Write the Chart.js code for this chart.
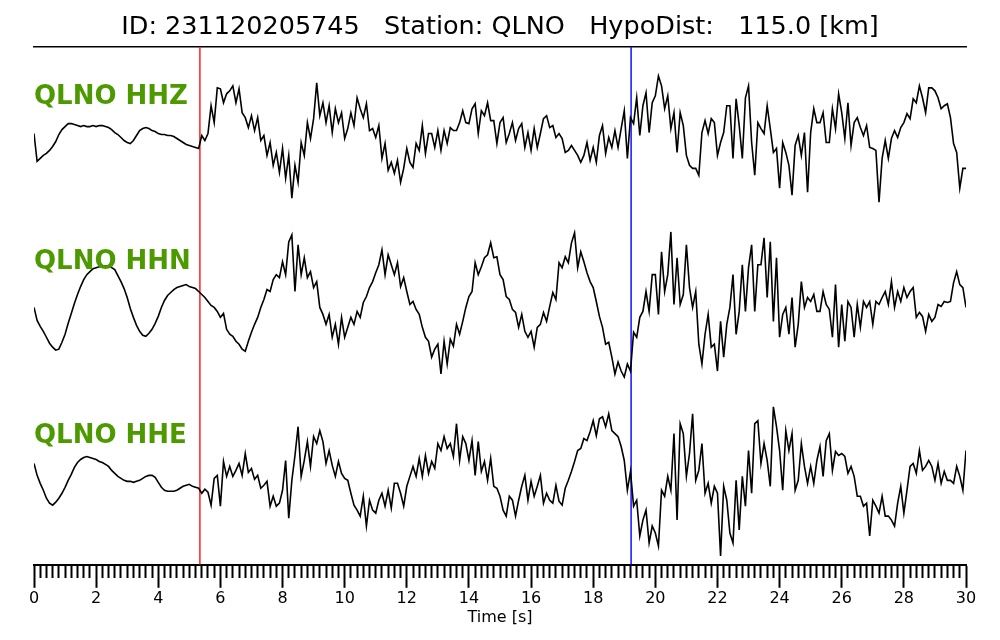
<!DOCTYPE html>
<html>
<head>
<meta charset="utf-8">
<script src="https://cdn.jsdelivr.net/npm/chart.js@4.4.1/dist/chart.umd.min.js"></script>
<style>
  html, body { margin: 0; padding: 0; background: #fff; }
</style>
</head>
<body>
<canvas id="seismo" width="1000" height="640"></canvas>
<script>
// Event / station info
const eventId = '231120205745';
const station = 'QLNO';
const hypoDist = '115.0';
const channels = ['HHZ', 'HHN', 'HHE'];

// Sampling of the traces (seconds)
const dt = 0.1;
const nSamples = 301;

// Phase picks (s): P in red, S in blue
const pPick = 5.34;
const sPick = 19.22;

// Trace amplitudes (normalized counts), one value every 0.1 s from 0 to 30 s
const hhz = [
  5, -23, -20, -17, -15, -12, -8, -3, 4, 9,
  12, 15, 15, 14, 13, 12, 13, 12, 12, 13,
  12, 13, 13, 12, 11, 9, 6, 4, 1, -2,
  -4, -5, -2, 3, 8, 10, 11, 10, 8, 7,
  5, 4, 4, 3, 3, 2, 0, -2, -4, -6,
  -7, -8, -9, -10, 3, -2, 5, 33, 16, 51,
  50, 36, 45, 48, 53, 36, 50, 26, 21, 11,
  23, 8, 21, -2, 3, -17, -4, -27, -14, -34,
  -10, -40, -17, -60, -27, -44, -4, -17, 16, 0,
  20, 56, 23, 36, 16, 33, 6, 30, 16, 26,
  0, 10, 26, 13, 41, 30, 21, 35, 8, 10,
  1, 13, -20, -5, -32, -24, -35, -22, -44, -30,
  -10, -24, -29, -5, -12, 13, -15, 5, 5, -9,
  8, -12, 8, -5, 11, 8, 8, 16, 28, 16,
  15, 30, 35, 5, 28, 23, 36, 18, 18, -5,
  16, 21, -4, 5, 16, -2, 10, 15, -9, 6,
  -12, 10, -9, 5, 20, 23, 11, 13, 1, 5,
  0, -14, -12, -7, -12, -17, -24, -17, -4, -22,
  -9, -24, 3, 13, -15, 1, -9, 8, -9, 10,
  28, -20, 21, 15, 41, 3, 33, 46, 6, 36,
  43, 63, 53, 30, 43, 10, 26, -14, 26, 13,
  -17, -27, -30, -30, -37, 6, 18, 5, 20, 16,
  -17, -4, 6, 33, 33, -20, 40, 13, -20, 41,
  53, -4, -37, 16, 10, 5, 33, 10, -14, -10,
  -50, -4, -14, -27, -57, -7, 3, -17, 6, -54,
  6, 30, 16, 16, 26, -4, -4, 30, 10, 45,
  26, 0, 36, -7, 16, 21, 11, 3, 13, -9,
  -10, -12, -64, -20, -2, -20, 0, 8, 1, 11,
  16, 25, 20, 40, 36, 53, 41, 26, 51, 51,
  48, 41, 30, 33, 35, 21, -5, -14, -50, -30,
  -30
];

const hhn = [
  -3, -16, -22, -27, -33, -39, -43, -46, -45, -38,
  -30, -19, -9, 1, 10, 18, 25, 30, 33, 36,
  37, 38, 38, 39, 39, 37, 35, 29, 23, 16,
  7, -4, -13, -21, -27, -31, -32, -29, -25, -19,
  -12, -3, 4, 9, 12, 15, 17, 18, 19, 20,
  18, 17, 16, 13, 10, 7, 3, -1, -3, -7,
  -13, -9, -25, -30, -32, -37, -40, -45, -47, -37,
  -28, -20, -13, -3, 5, 15, 13, 25, 30, 27,
  43, 30, 63, 70, 13, 60, 30, 47, 27, 33,
  17, 23, -3, -10, -20, -10, -33, -20, -40, -13,
  -33, -23, -13, -20, -7, -13, 2, 8, 17, 23,
  32, 40, 55, 30, 50, 40, 30, 42, 18, 27,
  13, 0, 3, -5, -10, -23, -33, -37, -53, -45,
  -40, -70, -37, -60, -35, -42, -20, -30, -17, -3,
  8, 13, 42, 30, 38, 47, 50, 62, 47, 48,
  30, 25, 8, 5, -5, -8, -23, -10, -27, -33,
  -27, -43, -23, -20, -8, -17, -2, 12, 5, 42,
  37, 48, 42, 62, 72, 37, 53, 43, 32, 23,
  17, 3, -12, -23, -40, -38, -53, -70, -58, -67,
  -73, -60, -67, -28, -33, -13, -7, 13, -7, 30,
  30, -10, 53, 13, 30, 73, 0, 47, 0, 10,
  60, 17, -3, 13, -40, -60, -30, -10, -43, -40,
  -67, -17, -53, -20, -3, 30, -30, -7, 40, -7,
  37, 60, -7, 40, 40, 67, 7, 63, -17, 47,
  -33, -10, -3, -30, 7, -43, -20, 23, -3, 7,
  3, 10, -7, -7, 13, 0, -5, -33, 20, -43,
  0, -37, 3, -3, -33, 0, -23, 3, -3, 3,
  -20, 3, 0, 7, 13, 0, 23, -3, 13, 3,
  17, 7, 13, 17, -13, -8, -12, -27, -10, -17,
  -13, 0, -2, 3, 2, 3, 22, 33, 20, 17,
  -3
];

const hhe = [
  15, 3, -5, -12, -20, -25, -27, -24, -20, -15,
  -9, -2, 4, 11, 16, 19, 21, 22, 21, 20,
  19, 17, 16, 14, 12, 8, 5, 2, 0, -2,
  -3, -3, -4, -3, -2, 0, 2, 3, 3, 1,
  -4, -9, -12, -13, -13, -13, -12, -10, -8, -7,
  -6, -8, -9, -10, -15, -11, -14, -27, 0, 3,
  -28, 17, 2, 12, 2, 8, 15, 3, 25, 6,
  10, -1, 3, -10, -7, -3, -28, -18, -28, -25,
  -12, 18, -40, -2, 23, 52, 2, 18, 37, 12,
  42, 35, 48, 37, 15, 28, 13, 2, 17, 5,
  0, -2, -15, -27, -32, -38, -18, -48, -22, -32,
  -35, -22, -15, -28, -12, -30, -5, -5, -15, -28,
  -8, 2, 12, 2, 20, 2, 23, 5, 17, 10,
  35, 28, 42, 30, 35, 22, 55, 18, 42, 35,
  18, 38, 3, 37, 7, 17, -2, 20, -8, -10,
  -18, -32, -38, -18, -22, -38, -22, -8, 3, -22,
  -3, -18, -8, 3, -25, -15, -22, -25, -7, -23,
  -27, -10, -2, 7, 17, 28, 30, 40, 38, 47,
  58, 43, 60, 62, 52, 65, 48, 45, 42, 32,
  18, -12, 7, -28, -22, -58, -42, -32, -65, -48,
  -55, -68, -12, -18, 2, -12, 45, -42, 55, 45,
  2, 25, 65, -2, 8, 35, -15, -5, -25, -8,
  -15, -78, -8, -22, -55, -65, -2, -52, 2, -28,
  28, -15, 55, 58, 15, 35, 18, -8, 72, 52,
  28, -12, 48, 28, 45, -12, -2, 35, 12, -5,
  12, -5, 18, 32, 2, 38, 45, 8, 27, 23,
  25, 22, 5, 12, 2, -18, -18, -28, -25, -58,
  -22, -28, -35, -18, -38, -38, -42, -48, -25, -8,
  -35, -12, 12, 15, 5, 28, 8, 12, 18, 12,
  -2, 15, -5, 7, -2, -2, -5, 12, 2, -12,
  28
];

// Vertical offsets used to stack the three traces
const traceOffsets = [429, 262, 87];
const yMax = 521;
const labelLift = 42;

const FONT = 'DejaVu Sans';

const times = Array.from({ length: nSamples }, (_, i) => Math.round(i * dt * 10) / 10);

function toPoints(values, offset) {
    return values.map((v, i) => ({ x: times[i], y: v + offset }));
}

function isMajor(v) {
    return Math.abs(v / 2 - Math.round(v / 2)) < 1e-6;
}

const traces = [hhz, hhn, hhe];

const datasets = traces.map((values, i) => ({
    label: station + ' ' + channels[i],
    data: toPoints(values, traceOffsets[i]),
    borderColor: '#000',
    borderWidth: 1.6,
    pointRadius: 0,
    tension: 0
}));

datasets.push({
    label: 'P',
    data: [{ x: pPick, y: 0 }, { x: pPick, y: yMax }],
    borderColor: '#ff2020',
    borderWidth: 1.5,
    pointRadius: 0
});
datasets.push({
    label: 'S',
    data: [{ x: sPick, y: 0 }, { x: sPick, y: yMax }],
    borderColor: '#1010ff',
    borderWidth: 1.5,
    pointRadius: 0
});

// Green channel names written above each trace
const channelLabels = {
    id: 'channelLabels',
    afterDatasetsDraw(chart) {
        const ctx = chart.ctx;
        const xs = chart.scales.x;
        const ys = chart.scales.y;
        ctx.save();
        ctx.font = 'bold 26px "' + FONT + '"';
        ctx.fillStyle = '#4d9a00';
        ctx.textAlign = 'left';
        ctx.textBaseline = 'middle';
        channels.forEach((ch, i) => {
            ctx.fillText(station + ' ' + ch, xs.getPixelForValue(0), ys.getPixelForValue(traceOffsets[i] + labelLift));
        });
        ctx.restore();
    }
};

new Chart(document.getElementById('seismo'), {
    type: 'line',
    data: { datasets: datasets },
    options: {
        responsive: false,
        animation: false,
        layout: { padding: { left: 34, right: 34, top: 0, bottom: 0 } },
        plugins: {
            legend: { display: false },
            tooltip: { enabled: false },
            title: {
                display: true,
                text: 'ID: ' + eventId + '   Station: ' + station + '   HypoDist:   ' + hypoDist + ' [km]',
                color: '#000',
                font: { family: FONT, size: 25.5, weight: 'normal' },
                padding: { top: 12, bottom: 4.5 }
            }
        },
        scales: {
            x: {
                type: 'linear',
                position: 'bottom',
                min: 0,
                max: 30,
                ticks: {
                    stepSize: 0.2,
                    autoSkip: false,
                    maxRotation: 0,
                    minRotation: 0,
                    padding: 3,
                    color: '#000',
                    font: { family: FONT, size: 16, lineHeight: 1 },
                    callback: v => isMajor(v) ? String(Math.round(v)) : ''
                },
                grid: {
                    drawOnChartArea: false,
                    drawTicks: true,
                    tickLength: 23,
                    tickWidth: 2,
                    tickColor: '#000',
                    tickBorderDash: ctx => isMajor(ctx.tick.value) ? [] : [12, 40]
                },
                border: { display: true, color: '#000', width: 2 },
                title: {
                    display: true,
                    text: 'Time [s]',
                    color: '#000',
                    font: { family: FONT, size: 16 },
                    padding: { top: -2, bottom: 13 }
                }
            },
            xTop: {
                type: 'linear',
                position: 'top',
                min: 0,
                max: 30,
                ticks: { display: false },
                grid: { display: false, drawTicks: false },
                border: { display: true, color: '#000', width: 1.5 }
            },
            y: {
                display: false,
                min: 0,
                max: yMax
            }
        }
    },
    plugins: [channelLabels]
});
</script>
</body>
</html>
